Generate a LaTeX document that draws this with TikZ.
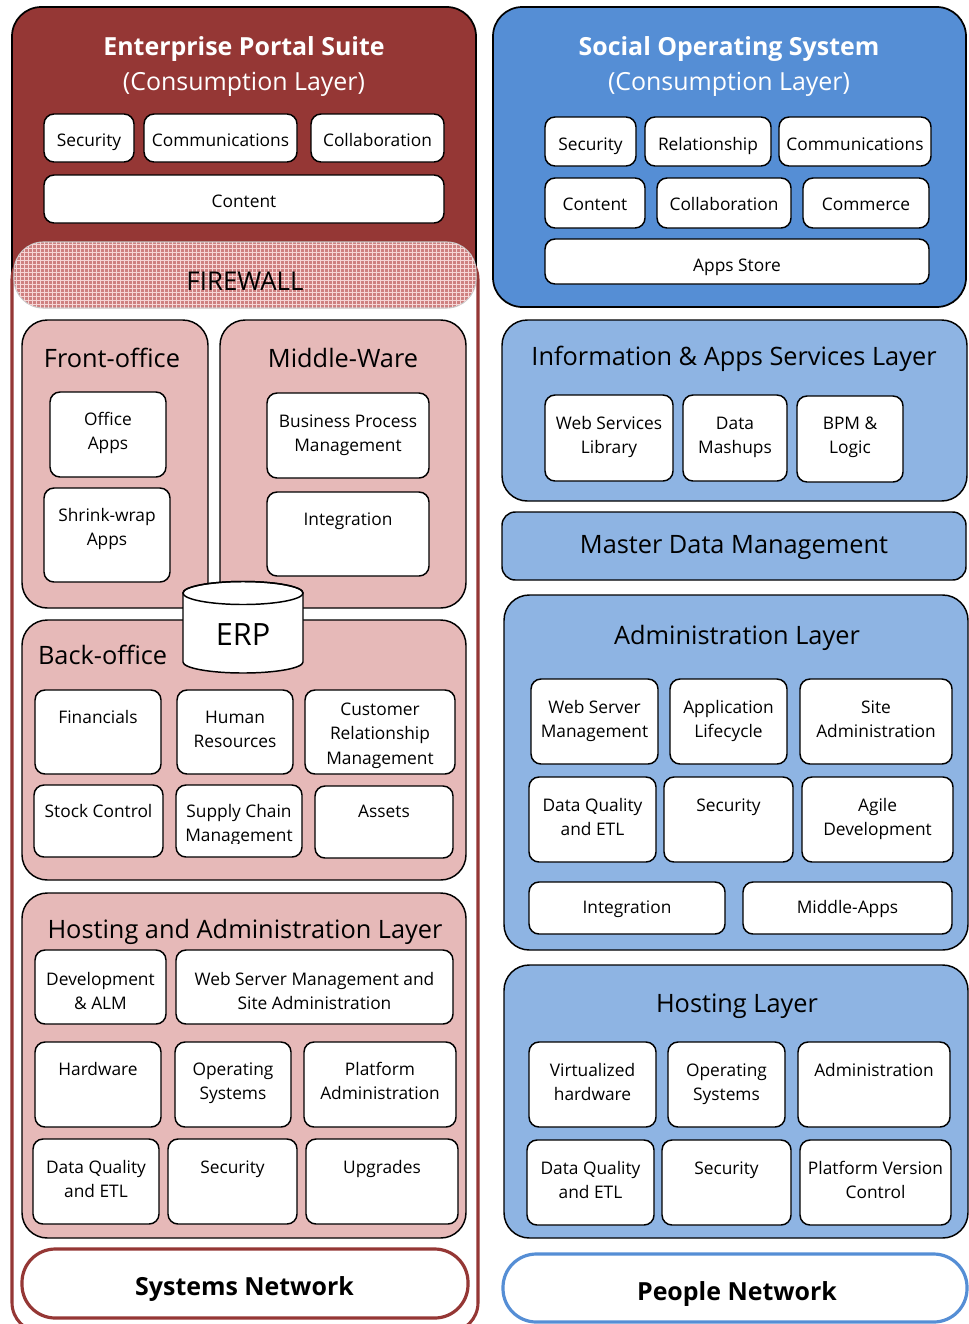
\documentclass[tikz,border=0pt]{standalone}
\usepackage{fontspec}
\setmainfont{Open Sans}
\usetikzlibrary{patterns}

\definecolor{redD}{HTML}{953735}
\definecolor{pinkL}{HTML}{E6B9B8}
\definecolor{blueD}{HTML}{558ED5}
\definecolor{blueL}{HTML}{8EB4E3}
\definecolor{fwpink}{RGB}{206,128,128}
\definecolor{fwgrid}{RGB}{246,214,214}

% box node spanning (x1,y1)-(x2,y2): [style]{name}{x1}{y1}{x2}{y2}
\newcommand\rbox[6][]{\node[#1, minimum width={(#5-#3)*0.75pt}, minimum height={(#6-#4)*0.75pt}] (#2) at ({(#3+#5)/2},{(#4+#6)/2}) {};}
% text placed on the baseline of its first line: [style]{name}{x}{y}{lines}
\newcommand\txt[5][cellfont]{\node[txtnode,#1] (#2) at (#3,#4) {\begin{tabular}[t]{@{}c@{}}#5\end{tabular}};}

\tikzset{
  base/.style={inner sep=0pt, outer sep=0pt},
  cell/.style={base, draw=black, line width=1.1pt, fill=white, rounded corners=7.5pt},
  layerR/.style={base, draw=black, line width=1.1pt, fill=pinkL, rounded corners=19pt},
  layerB/.style={base, draw=black, line width=1.1pt, fill=blueL, rounded corners=19pt},
  outerR/.style={base, draw=black, line width=1.3pt, fill=redD, rounded corners=22pt},
  outerB/.style={base, draw=black, line width=1.3pt, fill=blueD, rounded corners=22pt},
  container/.style={base, draw=redD, line width=2.3pt, fill=white, rounded corners=22pt},
  firewall/.style={base, draw=gray!45, line width=0.8pt, fill=fwpink, rounded corners=22pt,
    postaction={pattern=grid, pattern color=fwgrid}},
  netR/.style={base, draw=redD, line width=2.4pt, fill=white, rounded corners=25pt},
  netB/.style={base, draw=blueD, line width=2.4pt, fill=white, rounded corners=25pt},
  txtnode/.style={base, anchor=base, text=black},
  cellfont/.style={font=\fontsize{13}{18.7}\selectfont},
  layerfont/.style={font=\fontsize{19}{23}\selectfont},
  titlefont/.style={font=\fontsize{18.7}{22}\selectfont\bfseries, text=white},
  subtitlefont/.style={font=\fontsize{18.7}{22}\selectfont, text=white},
  netfont/.style={font=\fontsize{18.7}{22}\selectfont\bfseries},
  fwfont/.style={font=\fontsize{19.4}{23}\selectfont},
  erpfont/.style={font=\fontsize{23}{27}\selectfont},
}

\begin{document}
\begin{tikzpicture}[x=0.75pt, y=-0.75pt]
\useasboundingbox (0,0) rectangle (968,1324);
\fill[white] (0,0) rectangle (968,1324);

%% ---------------- Enterprise side ----------------
\rbox[outerR]{eps}{12}{7}{476}{300}
\txt[titlefont]{eps-t1}{244}{55}{Enterprise Portal Suite}
\txt[subtitlefont]{eps-t2}{244}{90}{(Consumption Layer)}

\rbox[cell]{e-sec}{44}{114}{134}{162}   \txt{e-sec-t}{89}{146}{Security}
\rbox[cell]{e-com}{144}{114}{297}{162}  \txt{e-com-t}{220.5}{146}{Communications}
\rbox[cell]{e-col}{311}{114}{444}{162}  \txt{e-col-t}{377.5}{146}{Collaboration}
\rbox[cell]{e-con}{44}{175}{444}{223}   \txt{e-con-t}{244}{207}{Content}

\rbox[container]{sys}{12}{250}{478}{1332}
\rbox[firewall]{fw}{14}{242}{476}{308}
\txt[fwfont]{fw-t}{245}{290}{FIREWALL}

% front office / middle-ware
\rbox[layerR]{fo}{22}{320}{208}{608}
\txt[layerfont]{fo-t}{112}{367}{Front-office}
\rbox[layerR]{mw}{220}{320}{466}{608}
\txt[layerfont]{mw-t}{343}{367}{Middle-Ware}

\rbox[cell]{office}{50}{392}{166}{477}   \txt{office-t}{108}{425}{Office\\Apps}
\rbox[cell]{shrink}{44}{488}{170}{582}  \txt{shrink-t}{107}{521}{Shrink-wrap\\Apps}
\rbox[cell]{bpm}{267}{393}{429}{478}    \txt{bpm-t}{348}{427}{Business Process\\Management}
\rbox[cell]{integ}{267}{492}{429}{576}  \txt{integ-t}{348}{525}{Integration}

% back office
\rbox[layerR]{bo}{22}{620}{466}{880}
\txt[layerfont, anchor=base west]{bo-t}{38}{664}{Back-office}

% ERP cylinder
\draw[line width=1.1pt, fill=white] (183,593) -- (183,662)
  arc[start angle=180, end angle=0, x radius=60, y radius=11]
  -- (303,593) arc[start angle=0, end angle=-180, x radius=60, y radius=11.5] -- cycle;
\draw[line width=1.1pt] (243,593) ellipse[x radius=60, y radius=11.5];
\txt[erpfont]{erp-t}{243}{645}{ERP}

\rbox[cell]{fin}{35}{690}{161}{774}     \txt{fin-t}{98}{723}{Financials}
\rbox[cell]{hr}{177}{690}{293}{774}     \txt{hr-t}{235}{723}{Human\\Resources}
\rbox[cell]{crm}{305}{690}{455}{774}    \txt{crm-t}{380}{715}{Customer\\Relationship\\Management}
\rbox[cell]{stock}{34}{785}{163}{857}   \txt{stock-t}{98.5}{817}{Stock Control}
\rbox[cell]{scm}{176}{785}{302}{857}
\begin{scope}
  \clip (176,785) rectangle (302,843);
  \txt{scm-t}{239}{817}{Supply Chain\\Management}
\end{scope}
\rbox[cell]{assets}{315}{786}{453}{858} \txt{assets-t}{384}{817}{Assets}

% hosting and administration
\rbox[layerR]{ha}{22}{893}{466}{1238}
\txt[layerfont]{ha-t}{245}{938}{Hosting and Administration Layer}

\rbox[cell]{dev}{35}{950}{166}{1024}    \txt{dev-t}{100.5}{985}{Development\\\& ALM}
\rbox[cell]{wsm}{176}{950}{453}{1024}   \txt{wsm-t}{314.5}{985}{Web Server Management and\\Site Administration}
\rbox[cell]{hw}{35}{1042}{161}{1127}    \txt{hw-t}{98}{1075}{Hardware}
\rbox[cell]{os}{175}{1042}{291}{1127}   \txt{os-t}{233}{1075}{Operating\\Systems}
\rbox[cell]{pa}{304}{1042}{456}{1127}   \txt{pa-t}{380}{1075}{Platform\\Administration}
\rbox[cell]{dq}{33}{1139}{159}{1224}    \txt{dq-t}{96}{1173}{Data Quality\\and ETL}
\rbox[cell]{sec}{168}{1139}{297}{1224}  \txt{sec-t}{232.5}{1173}{Security}
\rbox[cell]{upg}{306}{1139}{458}{1224}  \txt{upg-t}{382}{1173}{Upgrades}

\rbox[netR]{sn}{22}{1249}{468}{1318}
\txt[netfont]{sn-t}{244.5}{1295}{Systems Network}

%% ---------------- Social side ----------------
\rbox[outerB]{sos}{493}{7}{966}{307}
\txt[titlefont]{sos-t1}{729}{55}{Social Operating System}
\txt[subtitlefont]{sos-t2}{729}{90}{(Consumption Layer)}

\rbox[cell]{s-sec}{545}{117}{636}{166}    \txt{s-sec-t}{590.5}{150}{Security}
\rbox[cell]{s-rel}{645}{117}{771}{166}    \txt{s-rel-t}{708}{150}{Relationship}
\rbox[cell]{s-com}{779}{117}{931}{166}    \txt{s-com-t}{855}{150}{Communications}
\rbox[cell]{s-con}{545}{178}{645}{228}    \txt{s-con-t}{595}{210}{Content}
\rbox[cell]{s-col}{657}{178}{791}{228}    \txt{s-col-t}{724}{210}{Collaboration}
\rbox[cell]{s-cmm}{803}{178}{929}{228}    \txt{s-cmm-t}{866}{210}{Commerce}
\rbox[cell]{s-app}{545}{239}{929}{284}    \txt{s-app-t}{737}{271}{Apps Store}

% information & apps services
\rbox[layerB]{ias}{502}{320}{967}{501}
\txt[layerfont]{ias-t}{734}{365}{Information \& Apps Services Layer}
\rbox[cell]{wsl}{545}{395}{673}{481}   \txt{wsl-t}{609}{429}{Web Services\\Library}
\rbox[cell]{dm}{683}{395}{787}{481}    \txt{dm-t}{735}{429}{Data\\Mashups}
\rbox[cell]{bpml}{797}{396}{903}{482}  \txt{bpml-t}{850}{429}{BPM \&\\Logic}

\rbox[layerB, rounded corners=10pt]{mdm}{502}{512}{966}{580}
\txt[layerfont]{mdm-t}{734}{553}{Master Data Management}

% administration
\rbox[layerB]{adm}{504}{595}{968}{950}
\txt[layerfont]{adm-t}{737}{644}{Administration Layer}
\rbox[cell]{a-wsm}{531}{679}{658}{764}  \txt{a-wsm-t}{594.5}{713}{Web Server\\Management}
\rbox[cell]{a-al}{670}{679}{787}{764}   \txt{a-al-t}{728.5}{713}{Application\\Lifecycle}
\rbox[cell]{a-sa}{800}{679}{952}{764}   \txt{a-sa-t}{876}{713}{Site\\Administration}
\rbox[cell]{a-dq}{529}{777}{656}{862}   \txt{a-dq-t}{592.5}{811}{Data Quality\\and ETL}
\rbox[cell]{a-sec}{664}{777}{793}{862}  \txt{a-sec-t}{728.5}{811}{Security}
\rbox[cell]{a-ad}{802}{777}{953}{862}   \txt{a-ad-t}{877.5}{811}{Agile\\Development}
\rbox[cell]{a-int}{529}{882}{725}{934}  \txt{a-int-t}{627}{913}{Integration}
\rbox[cell]{a-ma}{743}{882}{952}{934}   \txt{a-ma-t}{847.5}{913}{Middle-Apps}

% hosting
\rbox[layerB]{hl}{504}{965}{968}{1238}
\txt[layerfont]{hl-t}{737}{1012}{Hosting Layer}
\rbox[cell]{h-vh}{529}{1042}{656}{1127}   \txt{h-vh-t}{592.5}{1076}{Virtualized\\hardware}
\rbox[cell]{h-os}{668}{1042}{785}{1127}   \txt{h-os-t}{726.5}{1076}{Operating\\Systems}
\rbox[cell]{h-adm}{798}{1042}{950}{1127}  \txt{h-adm-t}{874}{1076}{Administration}
\rbox[cell]{h-dq}{527}{1140}{654}{1225}   \txt{h-dq-t}{590.5}{1174}{Data Quality\\and ETL}
\rbox[cell]{h-sec}{662}{1140}{791}{1225}  \txt{h-sec-t}{726.5}{1174}{Security}
\rbox[cell]{h-pvc}{800}{1140}{951}{1225}  \txt{h-pvc-t}{875.5}{1174}{Platform Version\\Control}

\rbox[netB]{pn}{503}{1254}{967}{1322}
\txt[netfont]{pn-t}{737}{1300}{People Network}
\end{tikzpicture}
\end{document}
